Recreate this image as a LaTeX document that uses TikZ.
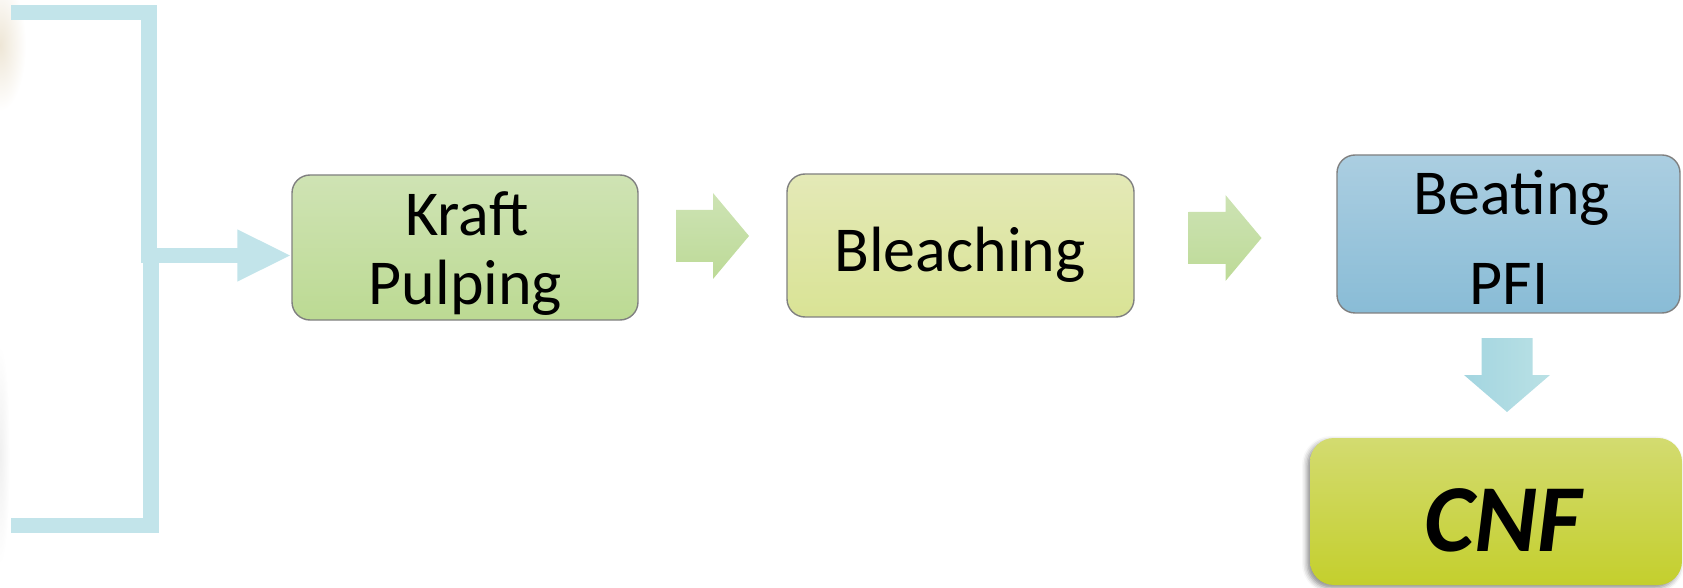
\documentclass[tikz,border=0pt]{standalone}
\usepackage{fontspec}
\setmainfont{Carlito}
\usetikzlibrary{arrows.meta,calc,shadows.blur}

\definecolor{feedblue}{RGB}{194,228,234}
\definecolor{kraftTop}{RGB}{207,227,180}
\definecolor{kraftBot}{RGB}{188,218,147}
\definecolor{bleachTop}{RGB}{228,233,183}
\definecolor{bleachBot}{RGB}{217,227,149}
\definecolor{beatTop}{RGB}{171,206,225}
\definecolor{beatBot}{RGB}{137,188,214}
\definecolor{agTop}{RGB}{205,227,180}
\definecolor{agBot}{RGB}{189,218,151}
\definecolor{downL}{RGB}{163,213,224}
\definecolor{downR}{RGB}{186,225,229}
\definecolor{cnfTop}{RGB}{211,219,112}
\definecolor{cnfMid}{RGB}{206,219,64}
\definecolor{cnfBot}{RGB}{196,207,45}
\definecolor{edgegray}{RGB}{128,128,128}
\definecolor{haze}{RGB}{238,230,214}

\tikzset{
  stagebox/.style={rectangle, rounded corners=18pt, draw=edgegray, line width=1.4pt,
                   inner sep=0pt},
  lbl/.style={anchor=base, inner sep=0pt, font=\fontsize{64}{68}\selectfont},
  feed/.style={fill=feedblue},
  feedline/.style={draw=feedblue, line width=15pt,
                   -{Triangle[length=54pt,width=48pt]}},
  pics/rblock/.style={code={
    \shade[top color=agTop, bottom color=agBot]
      (-36.5,-26) -- (0.5,-26) -- (0.5,-43) -- (36.5,0) -- (0.5,43) -- (0.5,26)
      -- (-36.5,26) -- cycle;}},
  pics/dblock/.style={code={
    \shade[left color=downL, right color=downR]
      (-25.5,37) -- (25.5,37) -- (25.5,0) -- (43,0) -- (0,-37) -- (-43,0)
      -- (-25.5,0) -- cycle;}}
}

\begin{document}
\begin{tikzpicture}[x=1pt, y=1pt]
\useasboundingbox (0,0) rectangle (1683,587);
\clip (0,0) rectangle (1683,587);

% soft tints along the left edge
\shade[inner color=haze, outer color=white] (0,542) ellipse (26 and 66);
\shade[inner color=black!6, outer color=white] (0,132) ellipse (10 and 110);

% process stages
\node[stagebox, top color=kraftTop, bottom color=kraftBot,
      minimum width=346pt, minimum height=145pt] (kraft) at (465,339.5) {};
\node[stagebox, top color=bleachTop, bottom color=bleachBot,
      minimum width=347pt, minimum height=143pt] (bleach) at (960.5,341.5) {};
\node[stagebox, top color=beatTop, bottom color=beatBot,
      minimum width=343pt, minimum height=158pt] (beat) at (1508.5,353) {};
\node[rectangle, rounded corners=24pt, inner sep=0pt,
      top color=cnfTop, middle color=cnfMid, bottom color=cnfBot,
      blur shadow={shadow xshift=-3pt, shadow yshift=-3pt,
                   shadow blur radius=5pt, shadow opacity=45},
      minimum width=372pt, minimum height=147pt] (cnf) at (1496,75.5) {};

% stage labels
\node[lbl] (kraftA) at (467,351) {Kraft};
\node[lbl] (kraftB) at (465.5,283) {Pulping};
\node[lbl] (bleachA) at (960,315.5) {Bleaching};
\node[lbl] (beatA) at (1512,372) {Beating};
\node[lbl] (beatB) at (1509,283) {PFI};
\node[anchor=base, inner sep=0pt, font=\fontsize{96}{100}\selectfont\bfseries\itshape]
      (cnfA) at (1503,36) {CNF};

% feed bracket joining into the first stage
\coordinate (jn) at (141,331.5);
\fill[feed] (11,567) rectangle (157,582);
\fill[feed] (141,324) rectangle (157,582);
\fill[feed] (143,54) rectangle (159,324);
\fill[feed] (11,54) rectangle (159,69);
\draw[feedline] (jn) -- (kraft.west |- jn);

% block arrows between stages
\pic (arrA) at (712.5,351) {rblock};
\pic (arrB) at (1225,349) {rblock};
\pic (arrC) at (1507,212) {dblock};
\end{tikzpicture}
\end{document}
